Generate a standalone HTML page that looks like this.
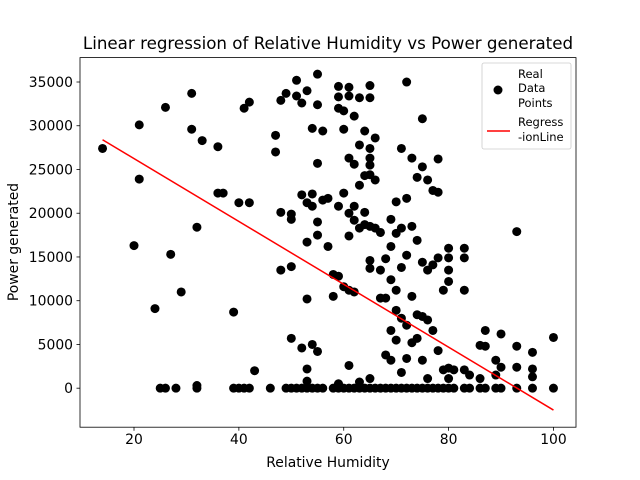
<!DOCTYPE html>
<html><head><meta charset="utf-8"><style>body{margin:0;background:#fff}svg{display:block;font-family:"DejaVu Sans","Liberation Sans",sans-serif}</style></head>
<body>
<svg id="c" width="640" height="480" xmlns="http://www.w3.org/2000/svg"></svg>
<script>
const humidity=[14,20,21,21,24,25,26,26,27,28,29,31,31,32,32,32,33,36,36,37,39,39,40,40,41,41,42,42,42,43,46,47,47,48,48,48,49,49,50,50,50,50,50,51,51,51,52,52,52,52,53,53,53,53,53,53,53,54,54,54,54,54,55,55,55,55,55,55,55,56,56,56,57,57,58,58,58,59,59,59,59,59,59,59,60,60,60,60,60,61,61,61,61,61,61,61,61,62,62,62,62,62,62,63,63,63,63,63,63,64,64,64,64,64,65,65,65,65,65,65,65,65,65,65,65,66,66,66,66,67,67,67,67,68,68,68,68,69,69,69,69,69,69,70,70,70,70,70,70,71,71,71,71,71,71,72,72,72,72,72,72,73,73,73,73,73,74,74,74,74,74,75,75,75,75,75,75,76,76,76,76,76,77,77,77,77,78,78,78,78,78,79,79,79,80,80,80,80,80,80,80,81,81,83,83,83,83,83,84,84,86,86,86,87,87,87,89,89,89,90,90,90,93,93,93,93,96,96,96,96,100,100];
const power=[27400,16300,23900,30100,9100,0,0,32100,15300,0,11000,33700,29600,18400,300,0,28300,27600,22300,22300,8700,0,21200,0,32000,0,32700,21200,0,2000,0,28900,27000,13500,20100,32900,0,33700,19900,19300,5700,13900,0,35200,33400,0,32600,22100,4600,0,34000,21200,16700,10200,2200,800,0,29700,22200,20800,5000,0,35900,32400,25700,19000,17500,4200,0,29400,21500,0,16200,21700,10500,13000,0,34500,33300,32000,20800,12800,500,0,29600,22300,11600,31700,0,34400,33400,26300,20000,17400,11200,2600,0,31100,25600,20800,19200,11000,0,33200,27800,23200,18300,700,0,29400,24300,20100,18700,0,34600,33200,27400,26300,25500,24400,18500,14600,13700,1100,0,28600,23800,18300,0,17800,13500,10300,0,14800,10300,3800,0,19300,16200,12400,6600,3200,0,21300,17700,11200,8900,5500,0,27400,18300,13800,8000,1800,0,35000,21700,15200,7200,3400,0,26300,18500,10500,5200,0,24100,16900,8400,5700,0,30800,25300,14400,8200,3200,0,23800,13500,7800,1100,0,22600,14100,6600,0,26200,22400,14900,4300,0,11200,2100,0,16000,14900,13500,12200,2300,1100,0,2100,0,16000,14900,11200,2100,0,1500,0,4900,1100,0,6600,4800,0,0,1500,3200,6200,0,2400,17900,4800,0,2400,4100,0,2200,1300,5800,0];
const regX=[14,100];
const regY=[28400,-2500];
const xTicks=[20,40,60,80,100];
const yTicks=[0,5000,10000,15000,20000,25000,30000,35000];
const L=80,R=576,T=57.6,B=427.2;
const X0=9.7,X1=104.3,Y0=-4460,Y1=37790;
const sx=v=>L+(v-X0)/(X1-X0)*(R-L);
const sy=v=>B-(v-Y0)/(Y1-Y0)*(B-T);
const svg=document.getElementById('c');
const NS='http://www.w3.org/2000/svg';
function mk(t,a,p){const e=document.createElementNS(NS,t);for(const k in a)e.setAttribute(k,a[k]);(p||svg).appendChild(e);return e;}
const g=mk('g',{});


humidity.forEach((h,i)=>{const c=mk('circle',{cx:sx(h),cy:sy(power[i]),r:4.5,fill:'#000'},g);

});
const ln=mk('line',{x1:sx(regX[0]),y1:sy(regY[0]),x2:sx(regX[1]),y2:sy(regY[1]),stroke:'#f00','stroke-width':1.5});


const fr=mk('rect',{x:L,y:T,width:R-L,height:B-T,fill:'none',stroke:'#000','stroke-width':0.8});


xTicks.forEach(t=>{mk('line',{x1:sx(t),x2:sx(t),y1:B,y2:B+3.5,stroke:'#000','stroke-width':0.8});
const tx=mk('text',{x:sx(t),y:B+17,'font-size':13.9,'text-anchor':'middle'});tx.textContent=t;

});
yTicks.forEach(t=>{mk('line',{x1:L-3.5,x2:L,y1:sy(t),y2:sy(t),stroke:'#000','stroke-width':0.8});
const tx=mk('text',{x:L-7,y:sy(t)+5,'font-size':13.9,'text-anchor':'end'});tx.textContent=t;

});
</script>
<svg width="640" height="480" style="position:absolute;left:0;top:0" xmlns="http://www.w3.org/2000/svg">
<text x="328" y="49" font-size="16.7" text-anchor="middle">Linear regression of Relative Humidity vs Power generated</text>
<text x="328" y="467" font-size="13.9" text-anchor="middle">Relative Humidity</text>
<text transform="translate(18,242) rotate(-90)" font-size="13.9" text-anchor="middle">Power generated</text>
<g font-size="11.5">
<rect x="482" y="63" width="89" height="86" rx="2" fill="#fff" stroke="#ccc" stroke-width="0.8"/>
<circle cx="498" cy="90" r="4.5" fill="#000"/>
<text x="518" y="78">Real</text><text x="518" y="92">Data</text><text x="518" y="107">Points</text>
<line x1="487" y1="131" x2="510" y2="131" stroke="#f00" stroke-width="1.5"/>
<text x="518" y="126">Regress</text><text x="518" y="141">-ionLine</text>
</g>
</svg>
</body></html>
